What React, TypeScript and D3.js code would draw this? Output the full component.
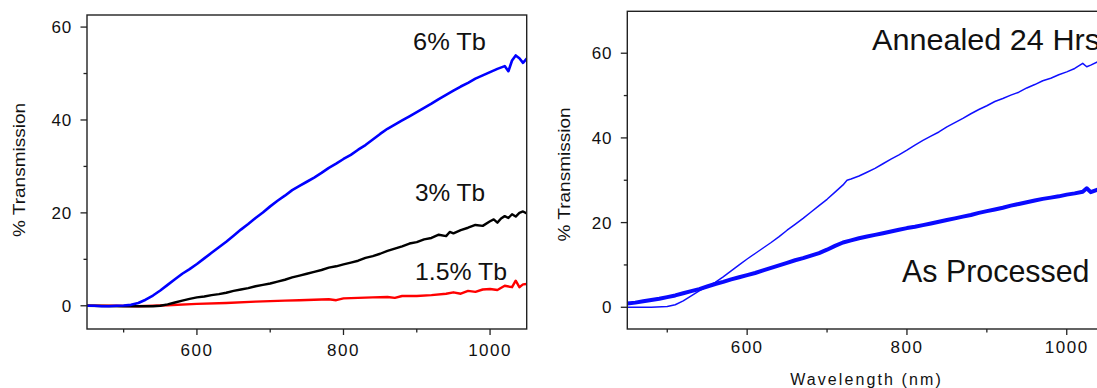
import React from "react";
import * as d3 from "d3";

// ---------- DATA ----------
// Left panel: % Transmission vs wavelength (nm) for Tb doping levels
const tb6Wl = [450, 460, 470, 480, 490, 500, 510, 520, 530, 540, 550, 560, 570, 580, 590, 600, 610, 620, 630, 640, 650, 660, 670, 680, 690, 700, 710, 720, 730, 740, 750, 760, 770, 780, 790, 800, 810, 820, 830, 840, 850, 860, 870, 880, 890, 900, 910, 920, 930, 940, 950, 960, 970, 980, 990, 1000, 1010, 1020, 1025, 1030, 1035, 1040, 1045, 1050];
const tb6Val = [0, 0, -0.1, -0.1, 0, 0.05, 0.2, 0.6, 1.3, 2.2, 3.3, 4.5, 5.7, 6.9, 7.9, 9.0, 10.2, 11.4, 12.6, 13.8, 15.1, 16.4, 17.6, 18.9, 20.1, 21.4, 22.6, 23.7, 24.9, 25.8, 26.7, 27.6, 28.6, 29.7, 30.6, 31.6, 32.5, 33.6, 34.6, 35.8, 37.0, 38.1, 39.0, 39.9, 40.8, 41.7, 42.6, 43.5, 44.5, 45.4, 46.3, 47.2, 48.0, 48.9, 49.6, 50.3, 51.0, 51.6, 50.5, 52.8, 53.9, 53.3, 52.3, 53.2];

const tb3Wl = [450, 500, 540, 550, 560, 570, 580, 590, 600, 610, 620, 630, 640, 650, 660, 670, 680, 690, 700, 710, 720, 730, 740, 750, 760, 770, 780, 790, 800, 810, 820, 830, 840, 850, 860, 870, 880, 890, 900, 910, 920, 930, 940, 945, 950, 960, 970, 980, 990, 1000, 1005, 1010, 1015, 1020, 1025, 1030, 1035, 1040, 1045, 1050];
const tb3Val = [0, -0.1, -0.1, 0, 0.3, 0.7, 1.1, 1.5, 1.8, 2.0, 2.3, 2.5, 2.8, 3.2, 3.5, 3.8, 4.2, 4.5, 4.8, 5.2, 5.6, 6.1, 6.5, 6.9, 7.3, 7.7, 8.2, 8.5, 8.9, 9.3, 9.7, 10.3, 10.7, 11.2, 11.8, 12.3, 12.8, 13.4, 13.7, 14.3, 14.6, 15.3, 15.0, 15.9, 15.6, 16.3, 16.8, 17.4, 17.2, 18.2, 18.6, 17.9, 18.8, 19.3, 18.9, 19.7, 19.2, 20.0, 20.3, 19.9];

const tb15Wl = [450, 490, 520, 560, 600, 640, 680, 700, 720, 740, 760, 780, 790, 800, 820, 840, 860, 870, 880, 900, 920, 940, 950, 960, 970, 980, 990, 1000, 1010, 1020, 1030, 1035, 1040, 1045, 1050];
const tb15Val = [0, 0, -0.1, 0.1, 0.4, 0.6, 0.9, 1.0, 1.1, 1.2, 1.3, 1.4, 1.2, 1.6, 1.7, 1.8, 1.9, 1.7, 2.1, 2.1, 2.3, 2.6, 2.9, 2.6, 3.2, 3.0, 3.5, 3.6, 3.4, 4.3, 4.0, 5.4, 4.0, 4.6, 4.7];

// Right panel
const annealWl = [450, 480, 500, 510, 520, 530, 540, 550, 560, 570, 580, 590, 600, 610, 620, 630, 640, 650, 660, 670, 680, 690, 700, 710, 720, 725, 730, 740, 750, 760, 770, 780, 790, 800, 810, 820, 830, 840, 850, 860, 870, 880, 890, 900, 910, 920, 930, 940, 950, 960, 970, 980, 990, 1000, 1010, 1020, 1025, 1030, 1040, 1050];
const annealVal = [0, 0, 0.2, 0.6, 1.5, 2.7, 3.9, 4.9, 5.9, 7.2, 8.6, 10.0, 11.4, 12.7, 14.0, 15.3, 16.7, 18.2, 19.6, 21.0, 22.5, 24.0, 25.5, 27.2, 28.9, 30.0, 30.3, 31.0, 31.9, 32.8, 33.9, 35.0, 36.0, 37.1, 38.3, 39.4, 40.4, 41.4, 42.6, 43.6, 44.6, 45.7, 46.7, 47.6, 48.6, 49.3, 50.1, 50.8, 51.8, 52.6, 53.5, 54.1, 54.9, 55.6, 56.4, 57.6, 56.8, 57.2, 58.1, 58.6];

const procWl = [450, 460, 470, 480, 490, 500, 510, 520, 530, 540, 550, 560, 570, 580, 590, 600, 610, 620, 630, 640, 650, 660, 670, 680, 690, 700, 710, 720, 730, 740, 750, 760, 770, 780, 790, 800, 810, 820, 830, 840, 850, 860, 870, 880, 890, 900, 910, 920, 930, 940, 950, 960, 970, 980, 990, 1000, 1010, 1020, 1025, 1030, 1040, 1050];
const procVal = [0.9, 1.1, 1.4, 1.7, 2.0, 2.4, 2.8, 3.3, 3.8, 4.3, 4.9, 5.5, 6.0, 6.6, 7.1, 7.6, 8.1, 8.7, 9.3, 9.9, 10.5, 11.1, 11.6, 12.2, 12.8, 13.6, 14.5, 15.3, 15.8, 16.3, 16.7, 17.1, 17.5, 17.9, 18.3, 18.7, 19.0, 19.4, 19.8, 20.2, 20.6, 21.0, 21.4, 21.8, 22.3, 22.7, 23.1, 23.5, 24.0, 24.4, 24.8, 25.2, 25.6, 25.9, 26.2, 26.6, 26.9, 27.3, 28.1, 27.2, 27.9, 28.3];

const xMajor = [600, 800, 1000];
const xMinor = [500, 700, 900];
const leftYMajor = [0, 20, 40, 60];
const leftYMinor = [10, 30, 50];
const rightYMajor = [0, 20, 40, 60];
const rightYMinor = [10, 30, 50];

const leftLabels = ["6% Tb", "3% Tb", "1.5% Tb"];
const rightLabels = ["Annealed 24 Hrs", "As Processed"];
const yTitle = "% Transmission";
const xTitle = "Wavelength (nm)";

const FONT = "'Liberation Sans', Arial, sans-serif";
const AXIS = "#222";

type Series = { wl: number[]; val: number[]; color: string; width: number };

function Panel(props: {
  left: number; right: number; top: number; bottom: number;
  yDomain: [number, number]; yMajor: number[]; yMinor: number[];
  series: Series[]; xLabelY: number; titleX: number; titleY: number;
}) {
  const { left, right, top, bottom, yDomain, yMajor, yMinor, series, xLabelY, titleX, titleY } = props;
  const x = d3.scaleLinear().domain([450, 1050]).range([left, right]);
  const y = d3.scaleLinear().domain(yDomain).range([bottom, top]);
  const clipId = `clip-${Math.round(left)}`;
  return (
    <g>
      <defs>
        <clipPath id={clipId}>
          <rect x={left} y={top} width={right - left} height={bottom - top} />
        </clipPath>
      </defs>
      <g clipPath={`url(#${clipId})`}>
        {series.map((s, i) => {
          const pts = s.wl.map((w, j) => [w, s.val[j]] as [number, number]);
          const line = d3.line<[number, number]>().x((d) => x(d[0])).y((d) => y(d[1]));
          return (
            <path key={i} d={line(pts) || ""} fill="none" stroke={s.color}
              strokeWidth={s.width} strokeLinejoin="round" strokeLinecap="round" />
          );
        })}
      </g>
      <rect x={left} y={top} width={right - left} height={bottom - top}
        fill="none" stroke={AXIS} strokeWidth={1.4} />
      {yMajor.map((v) => (
        <g key={"ym" + v}>
          <line x1={left - 6.5} x2={left} y1={y(v)} y2={y(v)} stroke={AXIS} strokeWidth={1.3} />
          <text x={left - 15} y={y(v)} dy="0.36em" textAnchor="end" fontSize={17}
            fontFamily={FONT} fill="#111" letterSpacing={0.8}>{v}</text>
        </g>
      ))}
      {yMinor.map((v) => (
        <line key={"yn" + v} x1={left - 3.5} x2={left} y1={y(v)} y2={y(v)} stroke={AXIS} strokeWidth={1.3} />
      ))}
      {xMajor.map((v) => (
        <g key={"xm" + v}>
          <line x1={x(v)} x2={x(v)} y1={bottom} y2={bottom + 6} stroke={AXIS} strokeWidth={1.3} />
          <text x={x(v)} y={xLabelY} textAnchor="middle" fontSize={17}
            fontFamily={FONT} fill="#111" letterSpacing={1.5}>{v}</text>
        </g>
      ))}
      {xMinor.map((v) => (
        <line key={"xn" + v} x1={x(v)} x2={x(v)} y1={bottom} y2={bottom + 3.5} stroke={AXIS} strokeWidth={1.3} />
      ))}
      <text transform={`translate(${titleX},${titleY}) rotate(-90)`} textAnchor="middle"
        fontSize={17} fontFamily={FONT} fill="#111" textLength={134} lengthAdjust="spacingAndGlyphs">{yTitle}</text>
    </g>
  );
}

export default function App() {
  return (
    <div style={{ position: "absolute", left: 0, top: 0 }}>
      <svg width={1097} height={388} style={{ display: "block", background: "#fff" }}>
        <Panel left={87} right={526.7} top={15} bottom={329} yDomain={[-5, 62.6]}
          yMajor={leftYMajor} yMinor={leftYMinor} xLabelY={355.7} titleX={25} titleY={170}
          series={[
            { wl: tb15Wl, val: tb15Val, color: "#ff0000", width: 2.4 },
            { wl: tb3Wl, val: tb3Val, color: "#000000", width: 2.4 },
            { wl: tb6Wl, val: tb6Val, color: "#0000ff", width: 2.6 },
          ]} />
        <Panel left={627.3} right={1106.7} top={11.3} bottom={329} yDomain={[-5.13, 69.9]}
          yMajor={rightYMajor} yMinor={rightYMinor} xLabelY={353.3} titleX={570} titleY={174.5}
          series={[
            { wl: annealWl, val: annealVal, color: "#1010ff", width: 1.5 },
            { wl: procWl, val: procVal, color: "#0a0aff", width: 4 },
          ]} />
        <text x={413} y={50} fontSize={24} fontFamily={FONT} fill="#111" textLength={73} lengthAdjust="spacingAndGlyphs">{leftLabels[0]}</text>
        <text x={415} y={201} fontSize={24} fontFamily={FONT} fill="#111" textLength={70} lengthAdjust="spacingAndGlyphs">{leftLabels[1]}</text>
        <text x={415} y={280} fontSize={24} fontFamily={FONT} fill="#111" textLength={92} lengthAdjust="spacingAndGlyphs">{leftLabels[2]}</text>
        <text x={872} y={50} fontSize={30} fontFamily={FONT} fill="#111" textLength={228} lengthAdjust="spacingAndGlyphs">{rightLabels[0]}</text>
        <text transform="translate(902,281.7) scale(0.95,1)" fontSize={32} fontFamily={FONT} fill="#111">{rightLabels[1]}</text>
        <text x={866.5} y={385} textAnchor="middle" fontSize={16} fontFamily={FONT} fill="#111"
          letterSpacing={2.1}>{xTitle}</text>
      </svg>
    </div>
  );
}
